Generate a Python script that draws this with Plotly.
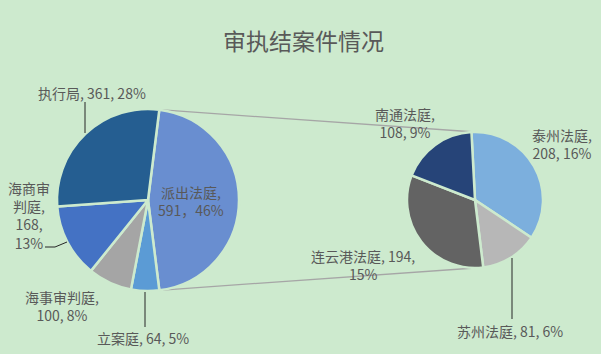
import plotly.graph_objects as go

# ---------------- data ----------------
main_labels = ["派出法庭", "立案庭", "海事审判庭", "海商审判庭", "执行局"]
main_values = [591, 64, 100, 168, 361]
main_pcts = [46, 5, 8, 13, 28]

sub_labels = ["泰州法庭", "苏州法庭", "连云港法庭", "南通法庭"]
sub_values = [208, 81, 194, 108]
sub_pcts = [16, 6, 15, 9]

title_text = "审执结案件情况"

# ---------------- styles / layout ----------------
W, H = 601, 354
BG = "rgb(205,234,206)"
TXT = "#595959"
FONT = "Noto Sans CJK SC, Noto Sans, sans-serif"
main_colors = ["#698ed0", "#5b9bd5", "#a5a5a5", "#4472c4", "#255e91"]
sub_colors = ["#7cafdd", "#b7b7b7", "#636363", "#264478"]

C1 = (148, 200); R1 = 91     # main pie centre / radius (px)
C2 = (475, 200); R2 = 68     # secondary pie

def px(x):
    return x / W

def py(y):
    return (H - y) / H

def dom(c, r):
    return dict(x=[px(c[0] - r), px(c[0] + r)], y=[py(c[1] + r), py(c[1] - r)])

import math
frac_other = main_values[0] / sum(main_values)
rot_main = 90 - frac_other * 180

fig = go.Figure()
fig.add_trace(go.Pie(
    labels=main_labels, values=main_values, sort=False, direction="clockwise",
    rotation=rot_main, domain=dom(C1, R1), textinfo="none", hoverinfo="label+value",
    marker=dict(colors=main_colors, line=dict(color=BG, width=2.5)),
    showlegend=False,
))
fig.add_trace(go.Pie(
    labels=sub_labels, values=sub_values, sort=False, direction="clockwise",
    rotation=-3, domain=dom(C2, R2), textinfo="none", hoverinfo="label+value",
    marker=dict(colors=sub_colors, line=dict(color=BG, width=2.5)),
    showlegend=False,
))

# connector lines between pies (computed from slice angles)
a0 = math.radians(rot_main)
a1 = math.radians(rot_main + frac_other * 360)
p_top = (C1[0] + R1 * math.sin(a0), C1[1] - R1 * math.cos(a0))
p_bot = (C1[0] + R1 * math.sin(a1), C1[1] - R1 * math.cos(a1))
s_top = (C2[0], C2[1] - R2)
s_bot = (C2[0], C2[1] + R2)
shapes = []
for a, b in [(p_top, s_top), (p_bot, s_bot)]:
    shapes.append(dict(type="line", xref="paper", yref="paper",
                       x0=px(a[0]), y0=py(a[1]), x1=px(b[0]), y1=py(b[1]),
                       line=dict(color="#a6a6a6", width=1.3), layer="below"))

# leader lines
leaders = [
    [(85, 102), (85, 133)],
    [(45, 247), (55, 247), (67, 242)],
    [(145, 292), (145, 327)],
    [(512, 258), (512, 319)],
]
for pts in leaders:
    for (xa, ya), (xb, yb) in zip(pts[:-1], pts[1:]):
        shapes.append(dict(type="line", xref="paper", yref="paper",
                           x0=px(xa), y0=py(ya), x1=px(xb), y1=py(yb),
                           line=dict(color="#262626", width=1)))

# label texts
def lab(name, v, p, fmt):
    return fmt.format(n=name, v=v, p=p)

main_fmt = ["{n},<br>{v}，{p}%", "{n}, {v}, {p}%", "{n},<br>{v}, {p}%",
            "海商审<br>判庭,<br>{v},<br>{p}%", "{n}, {v}, {p}%"]
main_pos = [(191, 201), (143, 338), (62, 306), (29, 215), (92, 93)]
sub_fmt = ["{n},<br>{v}, {p}%", "{n}, {v}, {p}%", "{n}, {v},<br>{p}%", "{n},<br>{v}, {p}%"]
sub_pos = [(562, 144), (510, 331), (363, 265), (405, 123)]

annotations = []
for names, vals, pcts, fmts, poss in [
    (main_labels, main_values, main_pcts, main_fmt, main_pos),
    (sub_labels, sub_values, sub_pcts, sub_fmt, sub_pos),
]:
    for n, v, p, f, (x, y) in zip(names, vals, pcts, fmts, poss):
        annotations.append(dict(
            text=lab(n, v, p, f), x=px(x), y=py(y), xref="paper", yref="paper",
            xanchor="center", yanchor="middle", showarrow=False, align="center",
            font=dict(size=14, color=TXT, family=FONT),
        ))
annotations.append(dict(
    text=title_text, x=px(303), y=py(40), xref="paper", yref="paper",
    xanchor="center", yanchor="middle", showarrow=False,
    font=dict(size=23, color=TXT, family=FONT),
))

fig.update_layout(
    width=W, height=H, margin=dict(l=0, r=0, t=0, b=0),
    paper_bgcolor=BG, plot_bgcolor=BG,
    shapes=shapes, annotations=annotations,
    font=dict(family=FONT, color=TXT),
)

fig.write_html("out.html")
